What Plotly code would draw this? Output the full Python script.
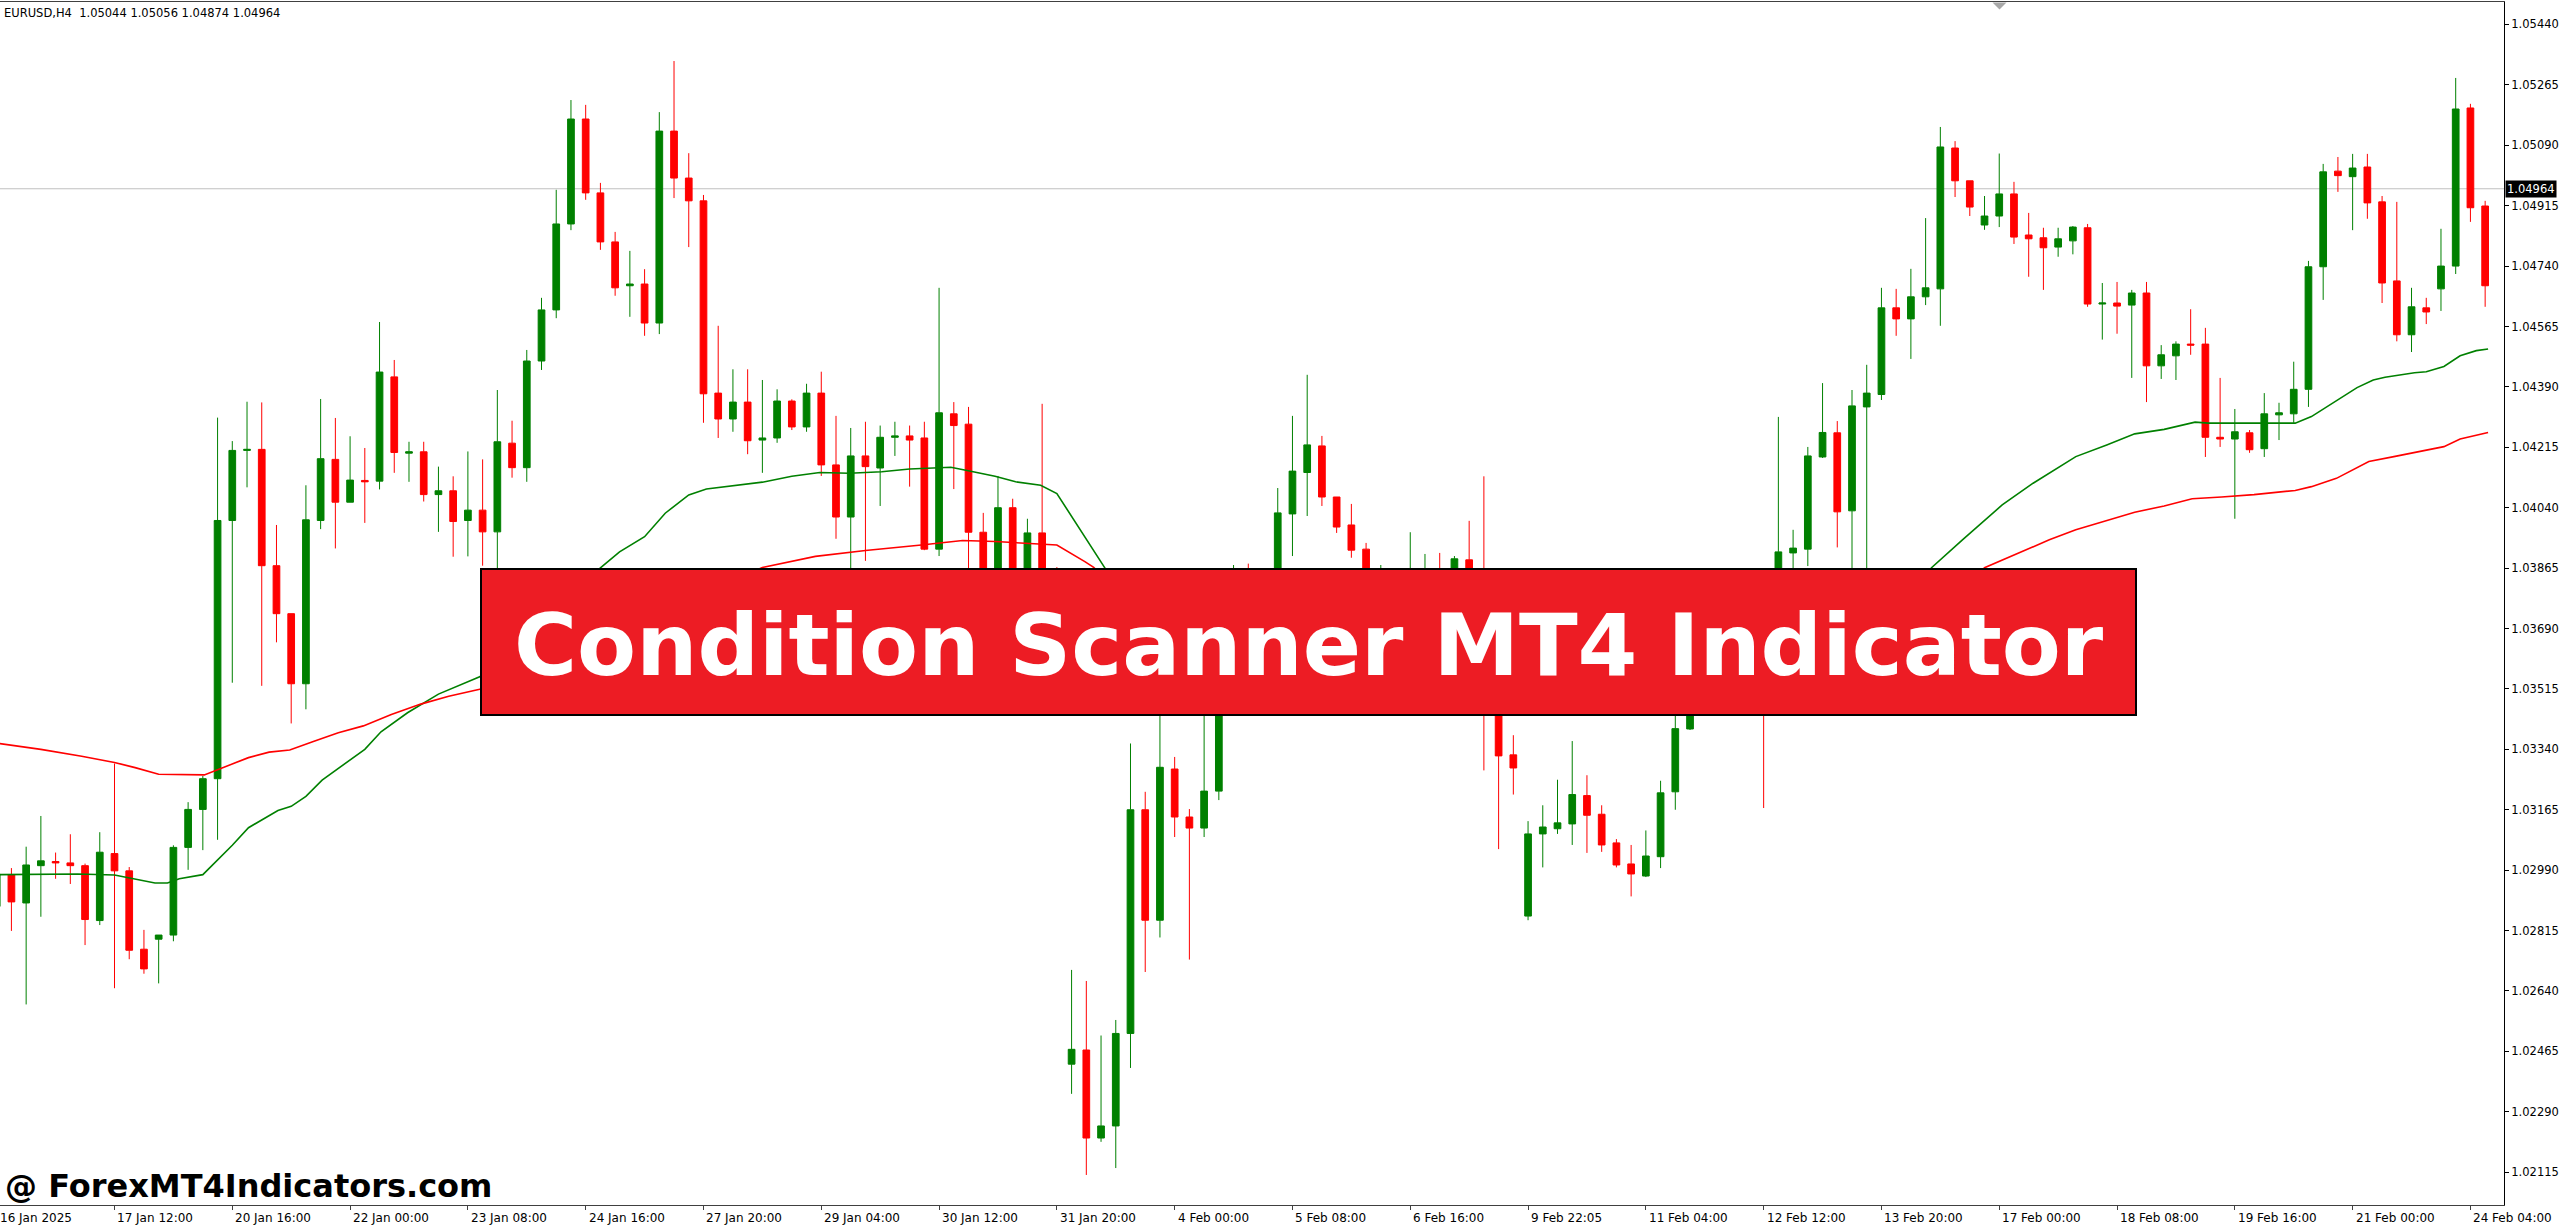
import plotly.graph_objects as go

# ---------------- data ----------------
symbol = "EURUSD,H4"
last_ohlc = ["1.05044", "1.05056", "1.04874", "1.04964"]
current_price = 1.04964

open_ = [1.02885, 1.02976, 1.02895, 1.03003, 1.03015, 1.03011, 1.03003, 1.02844, 1.03038, 1.02988,
         1.02761, 1.02790, 1.02802, 1.03056, 1.03166, 1.03255, 1.04003, 1.04206, 1.04209, 1.03872,
         1.03733, 1.03530, 1.04003, 1.04180, 1.04056, 1.04119, 1.04117, 1.04419, 1.04198, 1.04202,
         1.04078, 1.04089, 1.04003, 1.04033, 1.03970, 1.04227, 1.04156, 1.04465, 1.04613, 1.04862,
         1.05166, 1.04952, 1.04810, 1.04683, 1.04688, 1.04575, 1.05131, 1.04995, 1.04929, 1.04372,
         1.04297, 1.04346, 1.04236, 1.04242, 1.04349, 1.04274, 1.04372, 1.04164, 1.04013, 1.04190,
         1.04155, 1.04244, 1.04248, 1.04242, 1.03920, 1.04312, 1.04282, 1.03969, 1.03773, 1.04040,
         1.03802, 1.03967, 1.03657, 1.02428, 1.02469, 1.02214, 1.02249, 1.02517, 1.03165, 1.02845,
         1.03283, 1.03144, 1.03112, 1.03219, 1.03512, 1.03657, 1.03599, 1.03773, 1.04022, 1.04142,
         1.04219, 1.04071, 1.03990, 1.03920, 1.03802, 1.03845, 1.03802, 1.03845, 1.03860, 1.03816,
         1.03889, 1.03773, 1.03440, 1.03324, 1.02857, 1.03095, 1.03110, 1.03124, 1.03206, 1.03152,
         1.03069, 1.03008, 1.02973, 1.03029, 1.03217, 1.03399, 1.03541, 1.03657, 1.03744, 1.03705,
         1.03773, 1.03701, 1.03909, 1.03920, 1.04187, 1.04257, 1.04031, 1.04332, 1.04368, 1.04619,
         1.04587, 1.04651, 1.04674, 1.05082, 1.04987, 1.04859, 1.04885, 1.04949, 1.04830, 1.04822,
         1.04795, 1.04813, 1.04851, 1.04630, 1.04633, 1.04627, 1.04662, 1.04451, 1.04480, 1.04514,
         1.04514, 1.04244, 1.04239, 1.04257, 1.04211, 1.04309, 1.04312, 1.04383, 1.04738, 1.05015,
         1.04999, 1.05027, 1.04926, 1.04697, 1.04541, 1.04619, 1.04674, 1.04740, 1.05198, 1.04914]

high = [1.03002, 1.02996, 1.03058, 1.03147, 1.03041, 1.03094, 1.03009, 1.03100, 1.03299, 1.02999,
        1.02817, 1.02802, 1.03062, 1.03187, 1.03263, 1.04301, 1.04233, 1.04347, 1.04345, 1.03990,
        1.03733, 1.04105, 1.04355, 1.04300, 1.04247, 1.04213, 1.04578, 1.04468, 1.04231, 1.04231,
        1.04159, 1.04131, 1.04203, 1.04180, 1.04381, 1.04292, 1.04497, 1.04648, 1.04961, 1.05221,
        1.05207, 1.04981, 1.04839, 1.04784, 1.04731, 1.05186, 1.05334, 1.05067, 1.04946, 1.04567,
        1.04441, 1.04441, 1.04410, 1.04383, 1.04354, 1.04399, 1.04434, 1.04306, 1.04271, 1.04289,
        1.04278, 1.04289, 1.04278, 1.04289, 1.04677, 1.04346, 1.04332, 1.04025, 1.04132, 1.04066,
        1.04008, 1.04341, 1.03868, 1.02701, 1.02669, 1.02511, 1.02556, 1.03357, 1.03217, 1.03483,
        1.03318, 1.03167, 1.03483, 1.03541, 1.03874, 1.03878, 1.03802, 1.04097, 1.04306, 1.04425,
        1.04248, 1.04071, 1.04051, 1.03938, 1.03874, 1.03860, 1.03969, 1.03906, 1.03909, 1.03900,
        1.04002, 1.04131, 1.03469, 1.03381, 1.03132, 1.03178, 1.03252, 1.03364, 1.03265, 1.03178,
        1.03080, 1.03063, 1.03105, 1.03249, 1.03440, 1.03570, 1.03701, 1.03802, 1.03773, 1.03802,
        1.03816, 1.04303, 1.03976, 1.04216, 1.04401, 1.04291, 1.04381, 1.04454, 1.04677, 1.04674,
        1.04732, 1.04879, 1.05143, 1.05102, 1.04987, 1.04943, 1.05066, 1.04984, 1.04894, 1.04851,
        1.04851, 1.04856, 1.04862, 1.04691, 1.04694, 1.04671, 1.04694, 1.04511, 1.04522, 1.04615,
        1.04561, 1.04416, 1.04326, 1.04265, 1.04372, 1.04344, 1.04463, 1.04755, 1.05036, 1.05056,
        1.05065, 1.05065, 1.04943, 1.04926, 1.04677, 1.04648, 1.04848, 1.05285, 1.05210, 1.04929]

low = [1.02831, 1.02814, 1.02601, 1.02855, 1.02965, 1.02950, 1.02773, 1.02831, 1.02648, 1.02732,
       1.02690, 1.02662, 1.02784, 1.02991, 1.03048, 1.03078, 1.03533, 1.04099, 1.03524, 1.03650,
       1.03415, 1.03456, 1.03978, 1.03922, 1.04056, 1.03996, 1.04093, 1.04141, 1.04115, 1.04058,
       1.03970, 1.03898, 1.03899, 1.03872, 1.03845, 1.04127, 1.04115, 1.04439, 1.04589, 1.04844,
       1.04932, 1.04787, 1.04654, 1.04593, 1.04538, 1.04543, 1.04937, 1.04795, 1.04286, 1.04242,
       1.04260, 1.04195, 1.04141, 1.04228, 1.04265, 1.04260, 1.04132, 1.03950, 1.03828, 1.03886,
       1.04045, 1.04190, 1.04101, 1.03917, 1.03900, 1.04094, 1.03845, 1.03744, 1.03744, 1.03773,
       1.03759, 1.03628, 1.03541, 1.02342, 1.02107, 1.02203, 1.02127, 1.02417, 1.02695, 1.02795,
       1.03086, 1.02731, 1.03086, 1.03193, 1.03483, 1.03541, 1.03570, 1.03744, 1.03900, 1.04016,
       1.04045, 1.03967, 1.03895, 1.03773, 1.03759, 1.03773, 1.03759, 1.03802, 1.03773, 1.03787,
       1.03744, 1.03279, 1.03051, 1.03209, 1.02845, 1.02998, 1.03095, 1.03063, 1.03040, 1.03043,
       1.02998, 1.02914, 1.02970, 1.02996, 1.03165, 1.03396, 1.03512, 1.03628, 1.03657, 1.03675,
       1.03170, 1.03686, 1.03863, 1.03871, 1.04184, 1.03925, 1.03845, 1.03828, 1.04352, 1.04538,
       1.04471, 1.04627, 1.04567, 1.04940, 1.04885, 1.04845, 1.04853, 1.04804, 1.04709, 1.04671,
       1.04767, 1.04774, 1.04622, 1.04527, 1.04544, 1.04416, 1.04346, 1.04413, 1.04410, 1.04483,
       1.04187, 1.04216, 1.04008, 1.04199, 1.04187, 1.04236, 1.04286, 1.04332, 1.04642, 1.04955,
       1.04844, 1.04877, 1.04633, 1.04522, 1.04491, 1.04572, 1.04610, 1.04717, 1.04868, 1.04622]

close = [1.02979, 1.02898, 1.03005, 1.03017, 1.03011, 1.03003, 1.02847, 1.03042, 1.02988, 1.02758,
         1.02704, 1.02802, 1.03056, 1.03166, 1.03255, 1.04003, 1.04206, 1.04209, 1.03872, 1.03733,
         1.03530, 1.04005, 1.04182, 1.04056, 1.04120, 1.04115, 1.04433, 1.04200, 1.04202, 1.04078,
         1.04089, 1.04000, 1.04033, 1.03970, 1.04231, 1.04156, 1.04465, 1.04613, 1.04862, 1.05166,
         1.04952, 1.04810, 1.04677, 1.04688, 1.04575, 1.05131, 1.04995, 1.04929, 1.04370, 1.04297,
         1.04346, 1.04234, 1.04242, 1.04349, 1.04274, 1.04372, 1.04164, 1.04013, 1.04190, 1.04159,
         1.04244, 1.04248, 1.04236, 1.03920, 1.04315, 1.04278, 1.03969, 1.03773, 1.04040, 1.03802,
         1.03967, 1.03657, 1.03599, 1.02471, 1.02214, 1.02249, 1.02517, 1.03165, 1.02845, 1.03288,
         1.03144, 1.03112, 1.03219, 1.03512, 1.03657, 1.03599, 1.03773, 1.04025, 1.04146, 1.04222,
         1.04071, 1.03984, 1.03917, 1.03802, 1.03845, 1.03802, 1.03845, 1.03860, 1.03816, 1.03892,
         1.03773, 1.03440, 1.03321, 1.03286, 1.03095, 1.03115, 1.03127, 1.03209, 1.03149, 1.03063,
         1.03005, 1.02979, 1.03031, 1.03214, 1.03400, 1.03541, 1.03657, 1.03744, 1.03705, 1.03773,
         1.03701, 1.03912, 1.03923, 1.04190, 1.04258, 1.04028, 1.04335, 1.04372, 1.04619, 1.04587,
         1.04651, 1.04677, 1.05085, 1.04987, 1.04911, 1.04885, 1.04949, 1.04824, 1.04819, 1.04793,
         1.04819, 1.04853, 1.04630, 1.04633, 1.04624, 1.04662, 1.04451, 1.04483, 1.04514, 1.04511,
         1.04244, 1.04239, 1.04260, 1.04208, 1.04312, 1.04315, 1.04383, 1.04738, 1.05013, 1.05002,
         1.05024, 1.04923, 1.04691, 1.04541, 1.04622, 1.04607, 1.04740, 1.05195, 1.04909, 1.04683]

bars = list(range(len(close)))

fast_ma_bar = [0, 3.0, 5.5, 8.0, 9.4, 10.75, 11.6, 12.4, 14.0, 14.9, 16.0, 17.1, 19.1, 20.0, 21.0,
               22.1, 25.0, 26.1, 27.9, 30.0, 32.8, 36.9, 41.0, 42.3, 44.0, 45.4, 47.0, 48.2, 52.0,
               54.0, 55.9, 57.9, 60.1, 62.0, 64.8, 65.9, 67.8, 69.2, 70.9, 72.0, 73.7, 75.3, 78.3,
               85.1, 98.7, 115.7, 127.9, 131.4, 133.5, 136.2, 138.3, 141.2, 143.3, 145.2, 147.2,
               149.3, 150.2, 152.2, 154.1, 156.1, 157.2, 158.6, 160.3, 161.4, 162.2, 164.2, 165.0,
               166.2, 167.3, 168.4, 169.2]
fast_ma = [1.02977, 1.02979, 1.02979, 1.02976, 1.02965, 1.02953, 1.02953, 1.02965, 1.02977, 1.03015,
           1.03062, 1.03113, 1.03163, 1.03175, 1.03204, 1.03251, 1.03340, 1.03391, 1.03446, 1.03500,
           1.03550, 1.03701, 1.03866, 1.03912, 1.03956, 1.04024, 1.04077, 1.04094, 1.04114, 1.04131,
           1.04142, 1.04140, 1.04144, 1.04152, 1.04157, 1.04148, 1.04131, 1.04115, 1.04105, 1.04081,
           1.03970, 1.03863, 1.03657, 1.03483, 1.03469, 1.03483, 1.03657, 1.03866, 1.03947, 1.04048,
           1.04111, 1.04188, 1.04222, 1.04254, 1.04267, 1.04288, 1.04285, 1.04285, 1.04283, 1.04285,
           1.04304, 1.04343, 1.04388, 1.04410, 1.04418, 1.04431, 1.04434, 1.04449, 1.04480, 1.04495,
           1.04500]

slow_ma_bar = [0, 3.0, 5.77, 8.0, 9.4, 11.0, 14.1, 15.75, 17.1, 18.5, 19.9, 21.6, 23.2, 24.9, 26.8,
               28.8, 30.7, 32.8, 52.0, 55.6, 59.0, 62.8, 65.6, 67.8, 72.0, 73.9, 74.5, 78.3, 88.5,
               108.9, 129.3, 135.0, 139.4, 141.2, 143.3, 145.2, 147.2, 149.1, 151.1, 153.3, 156.1,
               157.2, 158.9, 161.1, 162.8, 165.0, 166.2, 167.3, 169.2]
slow_ma = [1.03358, 1.03340, 1.03320, 1.03302, 1.03287, 1.03268, 1.03266, 1.03293, 1.03316, 1.03332,
           1.03338, 1.03364, 1.03388, 1.03408, 1.03441, 1.03471, 1.03494, 1.03514, 1.03867, 1.03899,
           1.03916, 1.03932, 1.03945, 1.03942, 1.03932, 1.03884, 1.03867, 1.03701, 1.03512, 1.03483,
           1.03599, 1.03866, 1.03947, 1.03976, 1.04002, 1.04027, 1.04045, 1.04066, 1.04071, 1.04078,
           1.04090, 1.04101, 1.04125, 1.04174, 1.04188, 1.04208, 1.04217, 1.04239, 1.04258]

time_label_bars = [0, 8, 16, 24, 32, 40, 48, 56, 64, 72, 80, 88, 96, 104, 112, 120, 128, 136, 144,
                   152, 160, 168]
time_labels = ["16 Jan 2025", "17 Jan 12:00", "20 Jan 16:00", "22 Jan 00:00", "23 Jan 08:00",
               "24 Jan 16:00", "27 Jan 20:00", "29 Jan 04:00", "30 Jan 12:00", "31 Jan 20:00",
               "4 Feb 00:00", "5 Feb 08:00", "6 Feb 16:00", "9 Feb 22:05", "11 Feb 04:00",
               "12 Feb 12:00", "13 Feb 20:00", "17 Feb 00:00", "18 Feb 08:00", "19 Feb 16:00",
               "21 Feb 00:00", "24 Feb 04:00"]

price_tick_labels = ["1.02115", "1.02290", "1.02465", "1.02640", "1.02815", "1.02990", "1.03165",
                     "1.03340", "1.03515", "1.03690", "1.03865", "1.04040", "1.04215", "1.04390",
                     "1.04565", "1.04740", "1.04915", "1.05090", "1.05265", "1.05440"]
price_tick_values = [float(s) for s in price_tick_labels]

banner_text = "Condition Scanner MT4 Indicator"
watermark_text = "@ ForexMT4Indicators.com"

# ---------------- layout geometry ----------------
W, H = 2560, 1228
PL, PR, PT, PB = 0, 2504, 2, 1205          # plot area in pixels
x_range = [0.2241, 170.28]
y_range = [1.02020, 1.05505]


def paper_x(px):
    return (px - PL) / (PR - PL)


def paper_y(py):
    return (PB - py) / (PB - PT)


def bar_paper_x(b):
    return (b - x_range[0]) / (x_range[1] - x_range[0])


GREEN = "#008000"
RED = "#FF0000"
small_font = dict(family="DejaVu Sans", size=11.5, color="black")

fig = go.Figure()

fig.add_trace(go.Candlestick(
    x=bars, open=open_, high=high, low=low, close=close,
    increasing=dict(line=dict(color=GREEN, width=1), fillcolor=GREEN),
    decreasing=dict(line=dict(color=RED, width=1), fillcolor=RED),
    whiskerwidth=0, hoverinfo="skip", showlegend=False,
))
fig.add_trace(go.Scatter(x=fast_ma_bar, y=fast_ma, mode="lines",
                         line=dict(color=GREEN, width=1.6), hoverinfo="skip", showlegend=False))
fig.add_trace(go.Scatter(x=slow_ma_bar, y=slow_ma, mode="lines",
                         line=dict(color=RED, width=1.6), hoverinfo="skip", showlegend=False))

shapes = [
    # current price line
    dict(type="line", xref="paper", yref="y", x0=0, x1=1, y0=current_price, y1=current_price,
         line=dict(color="#C0C0C0", width=1), layer="below"),
    # banner
    dict(type="rect", xref="paper", yref="paper",
         x0=paper_x(481), x1=paper_x(2136), y0=paper_y(715), y1=paper_y(569),
         fillcolor="#ED1C24", line=dict(color="black", width=2), layer="above"),
    # chart shift marker
    dict(type="path", xref="paper", yref="paper",
         path="M {:.5f},{:.5f} L {:.5f},{:.5f} L {:.5f},{:.5f} Z".format(
             paper_x(1992.5), paper_y(2.5), paper_x(2006.5), paper_y(2.5),
             paper_x(1999.5), paper_y(9.5)),
         fillcolor="#A8A8A8", line=dict(color="#A8A8A8", width=0), layer="above"),
]

annotations = [
    dict(xref="paper", yref="paper", x=paper_x(2), y=paper_y(13), xanchor="left", yanchor="middle",
         text=symbol + "&nbsp;&nbsp;" + " ".join(last_ohlc), showarrow=False, font=small_font),
    dict(xref="paper", yref="y", x=1.0, y=current_price, xanchor="left", yanchor="middle",
         xshift=1, text=f"{current_price:.5f}", showarrow=False, bgcolor="black",
         borderpad=1, font=dict(family="DejaVu Sans", size=11.5, color="white")),
    dict(xref="paper", yref="paper", x=paper_x(1309), y=paper_y(645), xanchor="center",
         yanchor="middle", text="<b>" + banner_text + "</b>", showarrow=False,
         font=dict(family="DejaVu Sans", size=86, color="white")),
    dict(xref="paper", yref="paper", x=paper_x(3), y=paper_y(1186), xanchor="left",
         yanchor="middle", text="<b>" + watermark_text + "</b>", showarrow=False,
         font=dict(family="DejaVu Sans", size=32, color="black")),
]
for b, lab in zip(time_label_bars, time_labels):
    annotations.append(dict(xref="paper", yref="paper", x=bar_paper_x(b), y=paper_y(1218),
                            xanchor="left", yanchor="middle", xshift=1, text=lab,
                            showarrow=False, font=dict(family="DejaVu Sans", size=12, color="black")))

fig.update_layout(
    width=W, height=H,
    margin=dict(l=PL, r=W - PR, t=PT, b=H - PB, pad=0),
    paper_bgcolor="white", plot_bgcolor="white",
    showlegend=False, boxgap=0.35,
    xaxis=dict(range=x_range, rangeslider=dict(visible=False), showgrid=False, zeroline=False,
               showline=True, linecolor="#404040", linewidth=1, mirror=True,
               ticks="outside", ticklen=4, tickcolor="#404040",
               tickvals=time_label_bars, showticklabels=False, fixedrange=True),
    yaxis=dict(range=y_range, side="right", showgrid=False, zeroline=False,
               showline=True, linecolor="black", linewidth=1,
               ticks="outside", ticklen=4, tickcolor="black",
               tickvals=price_tick_values, ticktext=price_tick_labels,
               tickfont=small_font, fixedrange=True),
    shapes=shapes, annotations=annotations,
)

fig.write_html(
    "out.html",
    config={"displayModeBar": False},
    post_script="document.body.style.margin='0';document.body.style.padding='0';"
                "document.body.style.overflow='hidden';"
                "document.documentElement.style.overflow='hidden';",
)
